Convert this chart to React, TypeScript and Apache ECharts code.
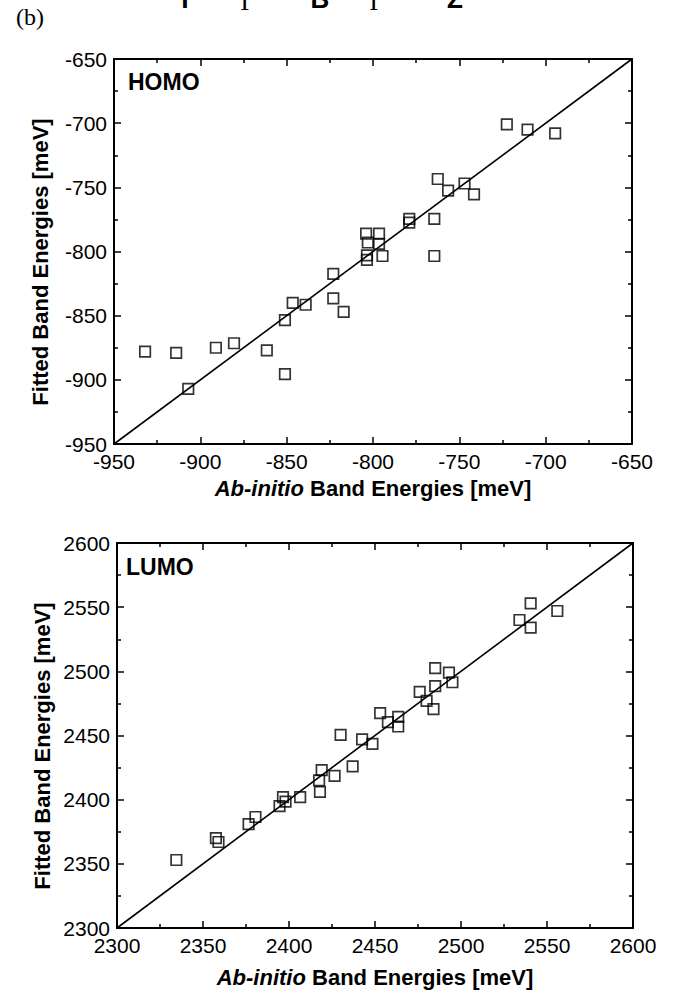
import { useEffect, useRef } from "react";
import * as echarts from "echarts";

// HOMO: ab-initio vs fitted band energies (meV)
const homoAbInitio = [
  -932, -914, -907, -891, -880.5, -861.5, -851, -851, -846.5, -839, -823, -823, -817,
  -804, -803, -803.5, -803.5, -796.5, -796.5, -794.5, -779, -779, -764.5, -764.5,
  -762.5, -756.5, -747, -741.5, -722.5, -710.5, -694.5,
];
const homoFitted = [
  -878, -879, -907, -875, -871.5, -877, -895.5, -853.5, -840, -841.5, -817.5, -836.5, -847,
  -786, -793, -803, -806.5, -786, -794, -803.5, -774.5, -777.5, -774.5, -803.5,
  -743.5, -752.5, -747, -755.5, -701, -705, -708,
];

// LUMO: ab-initio vs fitted band energies (meV)
const lumoAbInitio = [
  2334.5, 2357.5, 2359, 2376.5, 2380.5, 2394.5, 2396.5, 2398, 2406.5, 2417.5, 2418,
  2419, 2426.5, 2430, 2437, 2442.5, 2448.5, 2453, 2457.5, 2463.5, 2463.5, 2476, 2480,
  2484, 2485, 2485, 2493, 2495, 2534, 2540.5, 2540.5, 2556,
];
const lumoFitted = [
  2353, 2370, 2367, 2381, 2386.5, 2395, 2402, 2398.5, 2402, 2415, 2406, 2423, 2418.5,
  2450.5, 2426, 2447, 2443.5, 2467.5, 2460.5, 2464.5, 2457, 2484, 2477, 2470.5,
  2488.5, 2502.5, 2499, 2491.5, 2540, 2553, 2534, 2547,
];

const homoRange = [-950, -650];
const lumoRange = [2300, 2600];
const tickStep = 50;

const SANS = "'Liberation Sans', Arial, Helvetica, sans-serif";
const SERIF = "'Liberation Serif', 'Times New Roman', serif";

const panels = [
  { range: homoRange, xs: homoAbInitio, ys: homoFitted, grid: { left: 114, top: 59, width: 518, height: 385 } },
  { range: lumoRange, xs: lumoAbInitio, ys: lumoFitted, grid: { left: 117, top: 543, width: 516, height: 385 } },
];

const frameLine = { show: true, onZero: false, lineStyle: { color: "#000", width: 2 } };
const majorTick = { show: true, inside: true, length: 7, lineStyle: { color: "#000", width: 1.5 } };
const minorTick = { show: true, splitNumber: 2, length: 4, lineStyle: { color: "#000", width: 1.5 } };
const plainNumber = (v: number) => String(v);

function makeXAxis(gridIndex: number, range: number[], position: string, labels: boolean) {
  return {
    type: "value",
    gridIndex,
    position,
    min: range[0],
    max: range[1],
    interval: tickStep,
    axisLine: frameLine,
    axisTick: majorTick,
    minorTick,
    splitLine: { show: false },
    axisLabel: {
      show: labels,
      formatter: plainNumber,
      color: "#000",
      fontSize: 21,
      lineHeight: 14,
      fontFamily: SANS,
      margin: 10,
    },
  };
}

function makeYAxis(gridIndex: number, range: number[], position: string, labels: boolean) {
  return {
    type: "value",
    gridIndex,
    position,
    min: range[0],
    max: range[1],
    interval: tickStep,
    axisLine: frameLine,
    axisTick: majorTick,
    minorTick,
    splitLine: { show: false },
    axisLabel: {
      show: labels,
      formatter: plainNumber,
      color: "#000",
      fontSize: 21,
      lineHeight: 10,
      fontFamily: SANS,
      margin: 7,
      padding: [9, 0, 0, 0],
    },
  };
}

function xTitle(cx: number, cy: number) {
  return {
    type: "text",
    x: cx,
    y: cy,
    style: {
      text: "{i|Ab-initio}{r| Band Energies [meV]}",
      align: "center",
      verticalAlign: "middle",
      rich: {
        i: { fontFamily: SANS, fontSize: 22, fontWeight: "bold", fontStyle: "italic", fill: "#000" },
        r: { fontFamily: SANS, fontSize: 22, fontWeight: "bold", fill: "#000" },
      },
    },
  };
}

function yTitle(cx: number, cy: number) {
  return {
    type: "text",
    x: cx,
    y: cy,
    rotation: Math.PI / 2,
    style: {
      text: "Fitted Band Energies [meV]",
      align: "center",
      verticalAlign: "middle",
      font: `bold 22px ${SANS}`,
      fill: "#000",
    },
  };
}

function panelLabel(text: string, x: number, y: number) {
  return {
    type: "text",
    x,
    y,
    style: { text, align: "left", verticalAlign: "middle", font: `bold 23px ${SANS}`, fill: "#000" },
  };
}

// path labels of the band-structure panel above, only their lower edge is on the page
const pathLabels = [
  { text: "Y", x: 185, serif: false },
  { text: "Γ", x: 248, serif: true },
  { text: "B", x: 320, serif: false },
  { text: "Γ", x: 377, serif: true },
  { text: "Z", x: 455, serif: false },
];

export default function App() {
  const ref = useRef<HTMLDivElement>(null);

  useEffect(() => {
    if (!ref.current) return;
    const chart = echarts.init(ref.current, null, { renderer: "svg" });

    const xAxis: any[] = [];
    const yAxis: any[] = [];
    const series: any[] = [];
    panels.forEach((p, gi) => {
      xAxis.push(makeXAxis(gi, p.range, "bottom", true));
      xAxis.push(makeXAxis(gi, p.range, "top", false));
      yAxis.push(makeYAxis(gi, p.range, "left", true));
      yAxis.push(makeYAxis(gi, p.range, "right", false));
      series.push({
        type: "line",
        xAxisIndex: gi * 2,
        yAxisIndex: gi * 2,
        data: [
          [p.range[0], p.range[0]],
          [p.range[1], p.range[1]],
        ],
        symbol: "none",
        lineStyle: { color: "#000", width: 1.6 },
        silent: true,
        z: 2,
      });
      series.push({
        type: "scatter",
        xAxisIndex: gi * 2,
        yAxisIndex: gi * 2,
        data: p.xs.map((x, i) => [x, p.ys[i]]),
        symbol: "rect",
        symbolSize: 10.5,
        itemStyle: { color: "transparent", borderColor: "#000", borderWidth: 1.7 },
        z: 3,
      });
    });

    const graphic: any[] = [
      {
        type: "text",
        x: 30,
        y: 17,
        style: { text: "(b)", align: "center", verticalAlign: "middle", font: `24px ${SERIF}`, fill: "#000" },
      },
      ...pathLabels.map((l) => ({
        type: "text",
        x: l.x,
        y: l.serif ? 1.5 : -1,
        style: {
          text: l.text,
          align: "center",
          verticalAlign: "middle",
          font: l.serif ? `26px ${SERIF}` : `bold 26px ${SANS}`,
          fill: "#000",
        },
      })),
      panelLabel("HOMO", 128, 82),
      panelLabel("LUMO", 126, 567),
      yTitle(40, 262),
      yTitle(42, 746),
      xTitle(373, 488),
      xTitle(375, 977),
    ];

    chart.setOption({
      animation: false,
      backgroundColor: "#fff",
      grid: panels.map((p) => ({ ...p.grid, containLabel: false })),
      xAxis,
      yAxis,
      series,
      graphic,
    });

    return () => chart.dispose();
  }, []);

  return (
    <div
      ref={ref}
      style={{ position: "absolute", left: 0, top: 0, width: 677, height: 995, background: "#fff" }}
    />
  );
}
